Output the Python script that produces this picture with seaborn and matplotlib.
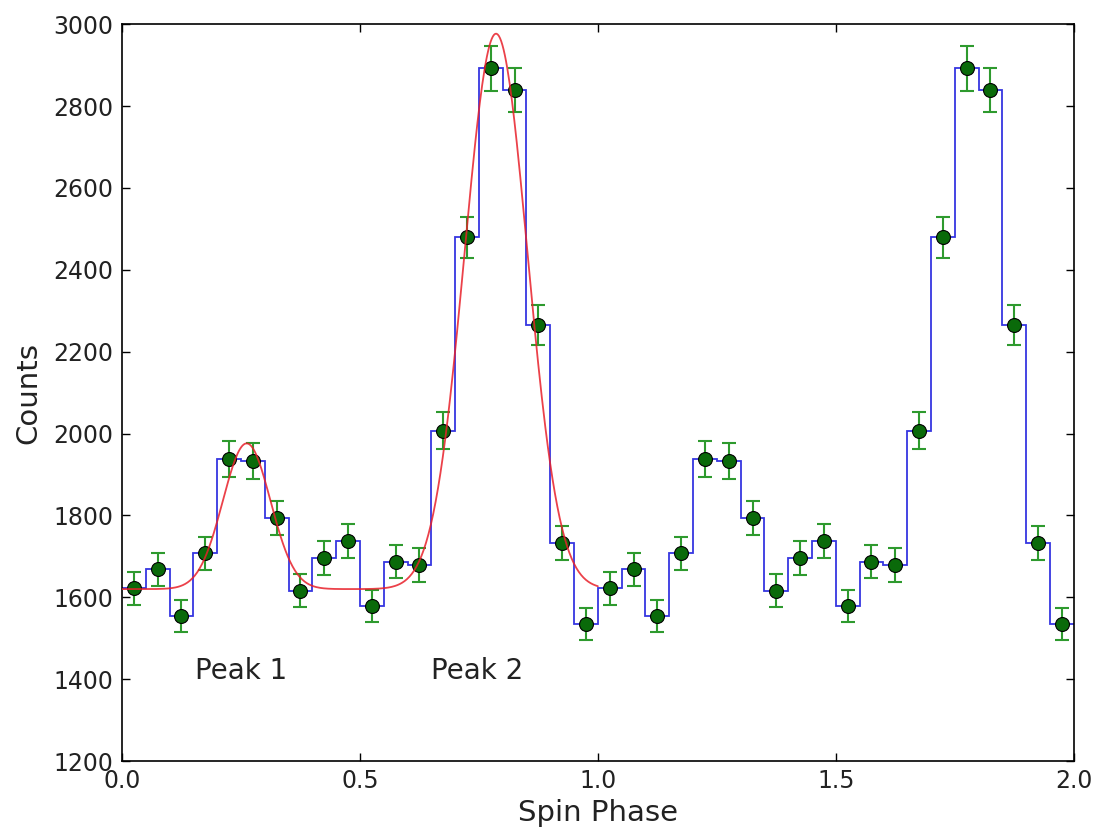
import numpy as np
import matplotlib
matplotlib.use("Agg")
import matplotlib.pyplot as plt
import seaborn as sns
import pandas as pd

# ---- data ----
phase_one_cycle = [0.025, 0.075, 0.125, 0.175, 0.225, 0.275, 0.325, 0.375, 0.425, 0.475,
                   0.525, 0.575, 0.625, 0.675, 0.725, 0.775, 0.825, 0.875, 0.925, 0.975]
counts_one_cycle = [1622, 1668, 1554, 1707, 1937, 1933, 1793, 1616, 1696, 1737,
                    1579, 1687, 1679, 2007, 2480, 2892, 2839, 2265, 1732, 1534]
errors_one_cycle = [40, 41, 39, 41, 44, 44, 42, 40, 41, 42,
                    40, 41, 41, 45, 50, 54, 53, 48, 42, 39]
bin_width = 0.05

# two-Gaussian fit (model parameters)
fit_base = 1620
fit_amp1, fit_mu1, fit_sig1 = 356, 0.262, 0.050
fit_amp2, fit_mu2, fit_sig2 = 1357, 0.786, 0.066
fit_range = (0.0, 1.0)

peak_labels = ["Peak 1", "Peak 2"]
peak_label_x = [0.153, 0.65]
peak_label_y = [1400, 1400]

xticks = [0.0, 0.5, 1.0, 1.5, 2.0]
yticks = list(range(1200, 3001, 200))

# ---- build two cycles ----
phase = np.concatenate([np.array(phase_one_cycle), np.array(phase_one_cycle) + 1.0])
counts = np.concatenate([counts_one_cycle, counts_one_cycle])
errors = np.concatenate([errors_one_cycle, errors_one_cycle])
edges = np.concatenate([phase - bin_width / 2, [phase[-1] + bin_width / 2]])

xf = np.linspace(fit_range[0], fit_range[1], 400)
yf = (fit_base
      + fit_amp1 * np.exp(-(xf - fit_mu1) ** 2 / (2 * fit_sig1 ** 2))
      + fit_amp2 * np.exp(-(xf - fit_mu2) ** 2 / (2 * fit_sig2 ** 2)))
fit_df = pd.DataFrame({"phase": xf, "model": yf})

sns.set_style("ticks")
plt.rcParams["font.family"] = ["DejaVu Sans"]
plt.rcParams.update({
    "xtick.direction": "in", "ytick.direction": "in",
    "xtick.top": True, "ytick.right": True,
    "xtick.major.size": 6, "ytick.major.size": 6,
    "xtick.major.width": 1.0, "ytick.major.width": 1.0,
    "axes.linewidth": 1.2, "axes.edgecolor": "black",
})

fig = plt.figure(figsize=(10.99, 8.36), dpi=100)
ax = fig.add_axes([0.111, 0.0897, 0.866, 0.8813])

ax.stairs(counts, edges, baseline=None, color="#3636e0", lw=1.3, zorder=2)
ax.errorbar(phase, counts, yerr=errors, fmt="none", ecolor="#2e9a2e",
            elinewidth=1.5, capsize=5, capthick=1.5, zorder=3)
ax.plot(phase, counts, "o", color="#0a6a0a", mec="black", mew=0.8, ms=10, zorder=4)
sns.lineplot(data=fit_df, x="phase", y="model", ax=ax, color="#e8202a",
             lw=1.3, alpha=0.85, zorder=5)

for lab, lx, ly in zip(peak_labels, peak_label_x, peak_label_y):
    ax.text(lx, ly, lab, fontsize=20, ha="left", va="baseline", color="#222222")

ax.set_xlim(0, 2.0)
ax.set_ylim(1200, 3000)
ax.set_xticks(xticks)
ax.set_yticks(yticks)
ax.tick_params(labelsize=17, colors="black", labelcolor="#222222", pad=6)
ax.set_xlabel("Spin Phase", fontsize=21, color="#222222", labelpad=4)
ax.set_ylabel("Counts", fontsize=21, color="#222222", labelpad=8)
for s in ax.spines.values():
    s.set_visible(True)

fig.savefig("out.png", dpi=100)
